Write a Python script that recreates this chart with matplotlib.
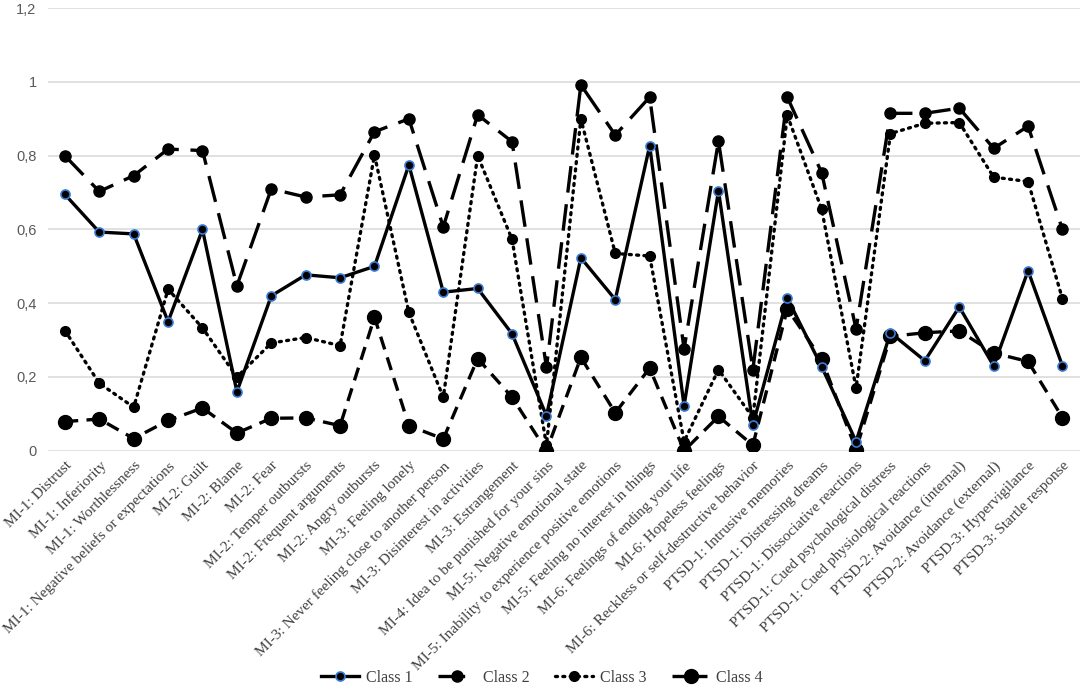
import numpy as np
import matplotlib
matplotlib.use("Agg")
import matplotlib.pyplot as plt

categories = [
    "MI-1: Distrust", "MI-1: Inferiority", "MI-1: Worthlessness",
    "MI-1: Negative beliefs or expectations", "MI-2: Guilt", "MI-2: Blame",
    "MI-2: Fear", "MI-2: Temper outbursts", "MI-2: Frequent arguments",
    "MI-2: Angry outbursts", "MI-3: Feeling lonely",
    "MI-3: Never feeling close to another person",
    "MI-3: Disinterest in activities", "MI-3: Estrangement",
    "MI-4: Idea to be punished for your sins",
    "MI-5: Negative emotional state",
    "MI-5: Inability to experience positive emotions",
    "MI-5: Feeling no interest in things",
    "MI-6: Feelings of ending your life", "MI-6: Hopeless feelings",
    "MI-6: Reckless or self-destructive behavior",
    "PTSD-1: Intrusive memories", "PTSD-1: Distressing dreams",
    "PTSD-1: Dissociative reactions", "PTSD-1: Cued psychological distress",
    "PTSD-1: Cued physiological reactions", "PTSD-2: Avoidance (internal)",
    "PTSD-2: Avoidance (external)", "PTSD-3: Hypervigilance",
    "PTSD-3: Startle response",
]

class1 = [0.695, 0.593, 0.588, 0.35, 0.60, 0.16, 0.42, 0.477, 0.469, 0.50,
          0.775, 0.43, 0.44, 0.317, 0.095, 0.523, 0.41, 0.827, 0.122, 0.705,
          0.07, 0.414, 0.228, 0.025, 0.32, 0.244, 0.39, 0.23, 0.488, 0.23]
class2 = [0.80, 0.703, 0.746, 0.818, 0.814, 0.447, 0.71, 0.688, 0.694, 0.865,
          0.90, 0.607, 0.911, 0.838, 0.226, 0.992, 0.856, 0.959, 0.276, 0.84,
          0.22, 0.959, 0.754, 0.33, 0.915, 0.915, 0.929, 0.82, 0.88, 0.60]
class3 = [0.326, 0.183, 0.118, 0.438, 0.333, 0.20, 0.292, 0.307, 0.285, 0.802,
          0.375, 0.145, 0.80, 0.573, 0.015, 0.90, 0.535, 0.528, 0.025, 0.22,
          0.09, 0.91, 0.655, 0.17, 0.86, 0.888, 0.89, 0.742, 0.73, 0.412]
class4 = [0.079, 0.086, 0.033, 0.082, 0.116, 0.048, 0.088, 0.089, 0.068, 0.362,
          0.068, 0.032, 0.25, 0.145, 0.0, 0.253, 0.103, 0.224, 0.0, 0.093,
          0.015, 0.385, 0.248, 0.003, 0.31, 0.32, 0.325, 0.265, 0.242, 0.09]

x = np.arange(len(categories))

fig = plt.figure(figsize=(10.84, 6.85), dpi=100)
ax = fig.add_axes([0.044, 0.342, 0.952, 0.646])

ax.plot(x, class1, color="black", lw=2.4, linestyle="-", marker="o",
        markersize=6.5, markerfacecolor="black", markeredgecolor="#3a7bd5",
        markeredgewidth=1.2, label="Class 1", zorder=5)
ax.plot(x, class2, color="black", lw=2.4, linestyle=(0, (8, 3.5)), marker="o",
        markersize=8, label="Class 2", zorder=4)
ax.plot(x, class3, color="black", lw=2.4, linestyle=(0, (0.6, 1.6)),
        dash_capstyle="round", marker="o", markersize=7, label="Class 3",
        zorder=3)
ax.plot(x, class4, color="black", lw=2.4, linestyle=(0, (4, 2.5)), marker="o",
        markersize=10, label="Class 4", zorder=2)

ax.set_xlim(-0.5, len(categories) - 0.5)
ax.set_ylim(0, 1.2)
yt = [0, 0.2, 0.4, 0.6, 0.8, 1.0, 1.2]
ax.set_yticks(yt)
ax.set_yticklabels(["0", "0,2", "0,4", "0,6", "0,8", "1", "1,2"],
                   color="#595959", fontsize=10.5, family="Liberation Sans")
ax.set_xticks(x)
ax.set_xticklabels(categories, rotation=45, ha="right", rotation_mode="anchor",
                   family="Liberation Serif", fontsize=11, color="#404040")
ax.tick_params(axis="both", length=0, pad=8)
ax.tick_params(axis="x", pad=6)
ax.grid(axis="y", color="#dcdcdc", lw=1.2)
ax.set_axisbelow(True)
for s in ax.spines.values():
    s.set_visible(False)

fig.legend(loc="lower center", bbox_to_anchor=(0.5, -0.022), ncol=4,
           frameon=False, prop={"family": "Liberation Serif", "size": 11.5},
           handlelength=2.4, handletextpad=0.4, columnspacing=1.6,
           labelcolor="#404040")

fig.savefig("out.png", dpi=100)
